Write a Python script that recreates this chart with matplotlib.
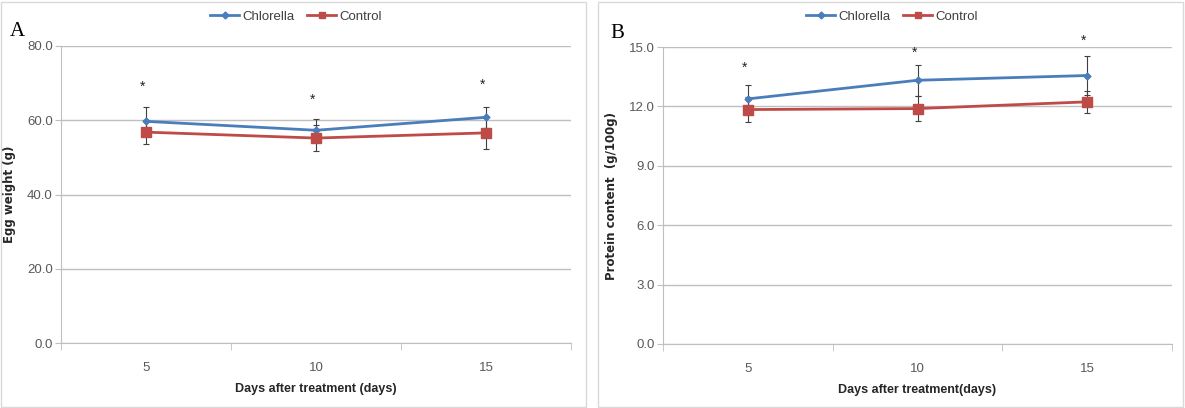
import numpy as np
import matplotlib.pyplot as plt
from matplotlib.patches import Rectangle
from matplotlib.lines import Line2D

# Data
days = ['5', '10', '15']

egg_chlorella = [59.7, 57.3, 60.8]
egg_chlorella_err = [3.9, 3.1, 2.8]
egg_control = [56.8, 55.2, 56.6]
egg_control_err = [3.3, 3.4, 4.3]
egg_star = [69.0, 65.6, 69.5]

prot_chlorella = [12.38, 13.32, 13.56]
prot_chlorella_err = [0.72, 0.77, 1.0]
prot_control = [11.84, 11.89, 12.23]
prot_control_err = [0.64, 0.64, 0.56]
prot_star = [13.94, 14.72, 15.3]

blue = '#4A7EBB'
red = '#BE4B48'
grid_c = '#BFBFBF'
txt_c = '#595959'

plt.rcParams['font.family'] = ['Liberation Sans Narrow', 'Liberation Sans', 'DejaVu Sans']

fig = plt.figure(figsize=(11.85, 4.08), dpi=100)
W, H = 1185, 408

# panel borders
for x0, x1 in [(1, 586), (598, 1183)]:
    fig.patches.append(Rectangle((x0 / W, 1 / H), (x1 - x0) / W, 405 / H,
                                 transform=fig.transFigure, fill=False,
                                 edgecolor='#D9D9D9', linewidth=1))


def panel(rect, chl, chl_err, ctl, ctl_err, stars, ymax, ystep, ylabel, xlabel, letter, lx, ly, legx):
    l, r, t, b = rect
    ax = fig.add_axes([l / W, 1 - b / H, (r - l) / W, (b - t) / H])
    x = np.arange(len(days))
    ax.errorbar(x, chl, yerr=chl_err, color=blue, marker='D', markersize=3.5,
                linewidth=2, ecolor='#404040', elinewidth=0.8, capsize=2.5, capthick=0.8,
                zorder=3)
    ax.errorbar(x, ctl, yerr=ctl_err, color=red, marker='s', markersize=6.5,
                linewidth=2, ecolor='#404040', elinewidth=0.8, capsize=2.5, capthick=0.8,
                zorder=3)
    for xi, s in zip(x, stars):
        ax.text(xi - 0.02, s, '*', ha='center', va='center', fontsize=10,
                color='#222222', clip_on=False)
    ax.set_xlim(-0.5, 2.5)
    ax.set_ylim(0, ymax)
    ax.set_yticks(np.arange(0, ymax + 0.01, ystep))
    ax.set_yticklabels(['%.1f' % v for v in np.arange(0, ymax + 0.01, ystep)])
    ax.set_xticks(x)
    ax.set_xticklabels(days)
    ax.set_xticks([-0.5, 0.5, 1.5, 2.5], minor=True)
    ax.tick_params(axis='x', which='major', length=0, pad=14, labelsize=9.5, labelcolor=txt_c)
    ax.tick_params(axis='x', which='minor', length=5, color=grid_c, direction='out')
    ax.tick_params(axis='y', length=4, color=grid_c, labelsize=9.5, labelcolor=txt_c, pad=2)
    ax.grid(axis='y', color=grid_c, linewidth=1)
    ax.set_axisbelow(True)
    for s in ['top', 'right']:
        ax.spines[s].set_visible(False)
    for s in ['left', 'bottom']:
        ax.spines[s].set_color(grid_c)
    ax.set_ylabel(ylabel, fontsize=8.5, fontweight='bold', color='#262626',
                  family=['DejaVu Sans'], labelpad=8)
    ax.set_xlabel(xlabel, fontsize=9, fontweight='bold', color='#262626', labelpad=6)
    fig.text(lx / W, 1 - ly / H, letter, family=['Liberation Serif', 'DejaVu Serif'],
             fontsize=15, ha='left', va='center')
    handles = [Line2D([], [], color=blue, marker='D', markersize=3.5, linewidth=2),
               Line2D([], [], color=red, marker='s', markersize=5, linewidth=2)]
    ax.legend(handles, ['Chlorella', 'Control'], loc='center',
              bbox_to_anchor=(legx / W, 1 - 17 / H), bbox_transform=fig.transFigure,
              ncol=2, frameon=False, fontsize=9.5, handlelength=2.2, handletextpad=0.2,
              columnspacing=1.0, labelcolor='#404040')
    return ax


panel((61, 571, 46, 343), egg_chlorella, egg_chlorella_err, egg_control, egg_control_err,
      egg_star, 80, 20, 'Egg weight (g)', 'Days after treatment (days)', 'A', 10, 31, 296)
panel((663, 1172, 47, 344), prot_chlorella, prot_chlorella_err, prot_control, prot_control_err,
      prot_star, 15, 3, 'Protein content  (g/100g)', 'Days after treatment(days)', 'B', 610, 33, 892)

fig.savefig('out.png', dpi=100)
